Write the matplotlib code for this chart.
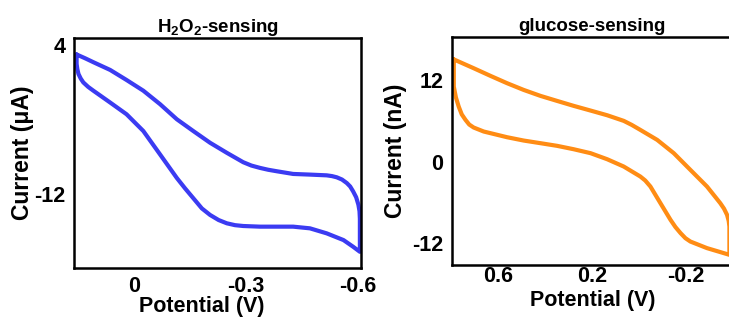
import matplotlib
matplotlib.use("Agg")
import matplotlib.pyplot as plt

################################################################################
# Data (cyclic voltammograms).                          #
################################################################################

# H2O2-sensing: forward (upper) branch, then return (lower) branch.
h2o2_up_v = [0.153, 0.130, 0.108, 0.063, 0.019, -0.026, -0.071, -0.116, -0.160, -0.205, -0.250,
             -0.294, -0.316, -0.339, -0.361, -0.384, -0.428, -0.473, -0.518, -0.532, -0.545,
             -0.559, -0.572, -0.581, -0.589, -0.597, -0.603, -0.606, -0.607]
h2o2_up_i = [3.03, 2.62, 2.20, 1.37, 0.29, -0.86, -2.31, -3.93, -5.19, -6.45, -7.53,
             -8.54, -8.90, -9.15, -9.35, -9.51, -9.80, -9.87, -9.95, -10.03, -10.16,
             -10.40, -10.78, -11.15, -11.68, -12.30, -13.1, -13.8, -14.6]
h2o2_lo_v = [-0.607, -0.589, -0.563, -0.518, -0.473, -0.428, -0.384, -0.339, -0.294, -0.272,
             -0.250, -0.228, -0.205, -0.183, -0.160, -0.138, -0.116, -0.071, -0.026, 0.019,
             0.063, 0.108, 0.122, 0.135, 0.142, 0.148, 0.151, 0.153, 0.153]
h2o2_lo_i = [-18.16, -17.62, -16.90, -16.18, -15.64, -15.46, -15.46, -15.46, -15.39, -15.30,
             -15.10, -14.75, -14.20, -13.50, -12.40, -11.35, -10.24, -7.71, -5.19, -3.39,
             -2.13, -0.86, -0.45, 0.03, 0.45, 0.94, 1.45, 2.02, 3.03]

# glucose-sensing
glu_up_v = [0.791, 0.706, 0.634, 0.563, 0.492, 0.420, 0.349, 0.278, 0.206, 0.135,
            0.064, 0.030, -0.007, -0.079, -0.150, -0.221, -0.292, -0.349, -0.365, -0.378,
            -0.385, -0.388]
glu_up_i = [15.1, 13.8, 12.67, 11.59, 10.6, 9.72, 8.98, 8.25, 7.56, 6.87,
            6.04, 5.45, 4.71, 3.24, 1.28, -1.18, -3.63, -6.09, -6.90, -7.81,
            -8.70, -9.53]
glu_lo_v = [-0.388, -0.364, -0.292, -0.221, -0.200, -0.179, -0.157, -0.136, -0.093, -0.050,
            -0.028, -0.007, 0.064, 0.135, 0.206, 0.278, 0.349, 0.420, 0.492, 0.563,
            0.663, 0.706, 0.725, 0.741, 0.757, 0.770, 0.782, 0.791, 0.791]
glu_lo_i = [-13.70, -13.45, -12.71, -11.74, -11.25, -10.5, -9.60, -8.54, -6.09, -3.63,
            -2.75, -2.16, -0.69, 0.39, 1.28, 1.86, 2.36, 2.75, 3.14, 3.63,
            4.47, 5.06, 5.50, 6.19, 7.00, 8.15, 9.50, 11.1, 15.1]

h2o2_xticks = [0, -0.3, -0.6]
h2o2_xticklabels = ['0', '-0.3', '-0.6']
h2o2_yticks = [4, -12]
glu_xticks = [0.6, 0.2, -0.2]
glu_xticklabels = ['0.6', '0.2', '-0.2']
glu_yticks = [12, 0, -12]

################################################################################
# Plot.                                                                        #
################################################################################

plt.rcParams['font.family'] = ['Liberation Sans', 'DejaVu Sans']
plt.rcParams['font.weight'] = 'bold'
plt.rcParams['mathtext.fontset'] = 'custom'
plt.rcParams['mathtext.rm'] = 'Liberation Sans:bold'
plt.rcParams['mathtext.default'] = 'rm'

fig = plt.figure(figsize=(7.29, 3.22), dpi=100)
ax1 = fig.add_axes([0.1015, 0.1677, 0.3937, 0.7143])
ax2 = fig.add_axes([0.6196, 0.1770, 0.3848, 0.7081])

ax1.plot(h2o2_up_v + h2o2_lo_v, h2o2_up_i + h2o2_lo_i, color='#3b3bf2', lw=3,
         solid_joinstyle='round', solid_capstyle='round')
ax2.plot(glu_up_v + glu_lo_v, glu_up_i + glu_lo_i, color='#ff8c14', lw=3,
         solid_joinstyle='round', solid_capstyle='round')

# Left panel details.
ax1.set_xlim(0.16, -0.61)
ax1.set_ylim(-19.9, 4.8)
ax1.set_xticks(h2o2_xticks)
ax1.set_xticklabels(h2o2_xticklabels)
ax1.set_yticks(h2o2_yticks)
ax1.set_yticklabels([str(t) for t in h2o2_yticks])
ax1.tick_params(axis='both', length=0, labelsize=15.5)
ax1.tick_params(axis='x', pad=6)
ax1.tick_params(axis='y', pad=6)
ax1.set_title(r'H$_2$O$_2$-sensing', fontsize=13.5, fontweight='bold', pad=4)
ax1.set_xlabel('Potential (V)', fontsize=15.5, fontweight='bold', va='center')
ax1.set_ylabel('Current (μA)', fontsize=16.5, fontweight='bold', va='center')
ax1.xaxis.set_label_coords(0.446, -0.168)
ax1.yaxis.set_label_coords(-0.181, 0.5)

# Right panel details.
ax2.set_xlim(0.8, -0.4)
ax2.set_ylim(-15.2, 18.4)
ax2.set_xticks(glu_xticks)
ax2.set_xticklabels(glu_xticklabels)
ax2.set_yticks(glu_yticks)
ax2.set_yticklabels([str(t) for t in glu_yticks])
ax2.tick_params(axis='both', length=0, labelsize=15.5)
ax2.tick_params(axis='x', pad=1)
ax2.tick_params(axis='y', pad=6)
ax2.set_title('glucose-sensing', fontsize=13.5, fontweight='bold', pad=4)
ax2.set_xlabel('Potential (V)', fontsize=15.5, fontweight='bold', va='center')
ax2.set_ylabel('Current (nA)', fontsize=16.5, fontweight='bold', va='center')
ax2.xaxis.set_label_coords(0.504, -0.154)
ax2.yaxis.set_label_coords(-0.202, 0.5)

for ax in (ax1, ax2):
    for sp in ax.spines.values():
        sp.set_linewidth(1.8)

fig.savefig("out.png", dpi=100)
plt.close()
